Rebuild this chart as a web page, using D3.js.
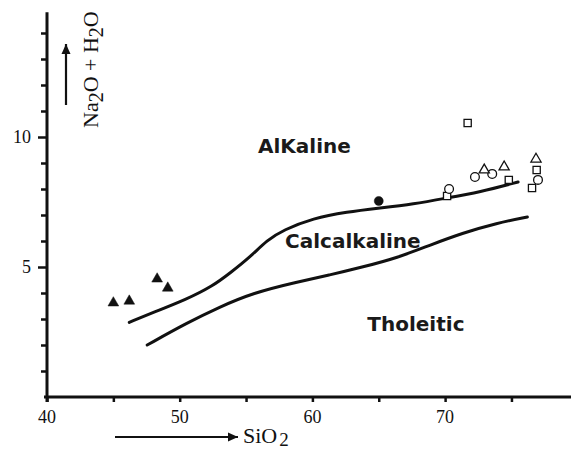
<!DOCTYPE html>
<html>
<head>
<meta charset="utf-8">
<script src="https://cdn.jsdelivr.net/npm/d3@7"></script>
<style>
  html, body { margin: 0; padding: 0; background: #fff; }
  svg { display: block; }
</style>
</head>
<body>
<svg id="chart" width="571" height="450"></svg>
<script>
// Boundary curves (SiO2, Na2O + H2O)
const upperCurveX = [46.2, 48.0, 50.5, 52.5, 53.8, 55.3, 56.6, 57.8, 60.05, 62.6, 65.1, 67.6, 70.1, 72.6, 75.5];
const upperCurveY = [2.87, 3.25, 3.75, 4.27, 4.77, 5.38, 6.04, 6.42, 6.88, 7.12, 7.27, 7.42, 7.65, 7.88, 8.27];
const lowerCurveX = [47.55, 50.55, 53.0, 55.5, 58.8, 61.3, 63.8, 66.4, 68.9, 71.35, 73.9, 76.2];
const lowerCurveY = [2.00, 2.85, 3.46, 4.00, 4.42, 4.69, 5.00, 5.35, 5.85, 6.31, 6.69, 6.92];

// Sample points
const filledTriX = [45.0, 46.2, 48.3, 49.1];
const filledTriY = [3.62, 3.69, 4.54, 4.19];
const filledCircleX = [65.0];
const filledCircleY = [7.54];
const openSquareX = [71.7, 70.15, 74.8, 76.9, 76.55];
const openSquareY = [10.54, 7.73, 8.35, 8.73, 8.04];
const openCircleX = [70.3, 72.25, 73.55, 77.0];
const openCircleY = [8.0, 8.46, 8.58, 8.35];
const openTriX = [72.95, 74.45, 76.85];
const openTriY = [8.73, 8.85, 9.15];

const xLabelTicks = [40, 50, 60, 70];
const xTicks = [40, 45, 50, 55, 60, 65, 70, 75];
const yLabelTicks = [5, 10];
const yTicks = d3.range(1, 15);

const regionNames = ["AlKaline", "Calcalkaline", "Tholeitic"];
const regionX = [59.4, 63.05, 67.8];
const regionY = [9.38, 5.73, 2.53];

const ink = "#111";
const serif = "'Liberation Serif', 'Times New Roman', serif";
const svg = d3.select("#chart");

const x = d3.scaleLinear().domain([40, 80]).range([47, 577.8]);
const y = d3.scaleLinear().domain([0, 14.8]).range([397, 12.2]);

// x axis
const xAxis = svg.append("g").attr("transform", `translate(0,${y(0)})`)
  .call(d3.axisBottom(x).tickValues(xTicks).tickSize(5).tickFormat(""));
xAxis.select(".domain").remove();
xAxis.selectAll(".tick line").attr("stroke", ink).attr("stroke-width", 2.5);
svg.append("line").attr("x1", 44).attr("x2", 571).attr("y1", y(0)).attr("y2", y(0))
  .attr("stroke", ink).attr("stroke-width", 3);
svg.append("g").selectAll("text").data(xLabelTicks).join("text")
  .attr("x", d => x(d)).attr("y", 423)
  .attr("text-anchor", "middle")
  .attr("font-family", serif)
  .attr("font-size", 18).attr("fill", ink)
  .text(d => d);

// y axis
const yAxis = svg.append("g").attr("transform", `translate(${x(40)},0)`)
  .call(d3.axisLeft(y).tickValues(yTicks)
    .tickSize(6).tickFormat(""));
yAxis.select(".domain").remove();
yAxis.selectAll(".tick line").attr("stroke", ink).attr("stroke-width", 2.5)
  .attr("x2", d => yLabelTicks.includes(d) ? -9 : -6);
svg.append("line").attr("x1", x(40)).attr("x2", x(40)).attr("y1", y(14.8)).attr("y2", y(0) + 5)
  .attr("stroke", ink).attr("stroke-width", 3);
svg.append("g").selectAll("text").data(yLabelTicks).join("text")
  .attr("x", 31).attr("y", d => y(d) + 6)
  .attr("text-anchor", "end")
  .attr("font-family", serif)
  .attr("font-size", 18).attr("fill", ink)
  .text(d => d);

// axis titles with arrows
const defs = svg.append("defs");
defs.append("marker").attr("id", "arrow").attr("viewBox", "0 0 10 10")
  .attr("refX", 10).attr("refY", 5).attr("markerWidth", 10).attr("markerHeight", 10)
  .attr("markerUnits", "userSpaceOnUse").attr("orient", "auto")
  .append("path").attr("d", "M0,0.5 L10,5 L0,9.5 Z").attr("fill", ink);

svg.append("line").attr("x1", 115).attr("x2", 238).attr("y1", 437).attr("y2", 437)
  .attr("stroke", ink).attr("stroke-width", 2.2).attr("marker-end", "url(#arrow)");
const xt = svg.append("text").attr("x", 243).attr("y", 443)
  .attr("font-family", serif)
  .attr("font-size", 22).attr("fill", ink);
xt.append("tspan").text("SiO");
xt.append("tspan").attr("dx", 2).attr("dy", 3).attr("font-size", 19).text("2");

svg.append("line").attr("x1", 66).attr("x2", 66).attr("y1", 105).attr("y2", 44)
  .attr("stroke", ink).attr("stroke-width", 2.2).attr("marker-end", "url(#arrow)");
const yt = svg.append("text").attr("transform", "translate(98,128) rotate(-90)")
  .attr("font-family", serif)
  .attr("font-size", 22).attr("fill", ink);
yt.append("tspan").text("Na");
yt.append("tspan").attr("dy", 5).attr("font-size", 20).text("2");
yt.append("tspan").attr("dy", -5).text("O + H");
yt.append("tspan").attr("dy", 5).attr("font-size", 20).text("2");
yt.append("tspan").attr("dy", -5).text("O");

// boundary curves
const line = d3.line().x(d => x(d[0])).y(d => y(d[1])).curve(d3.curveBasis);
svg.append("path").datum(d3.zip(upperCurveX, upperCurveY)).attr("d", line)
  .attr("fill", "none").attr("stroke", ink).attr("stroke-width", 3).attr("stroke-linecap", "round");
svg.append("path").datum(d3.zip(lowerCurveX, lowerCurveY)).attr("d", line)
  .attr("fill", "none").attr("stroke", ink).attr("stroke-width", 3).attr("stroke-linecap", "round");

// region names
svg.append("g").selectAll("text").data(regionNames).join("text")
  .attr("x", (d, i) => x(regionX[i])).attr("y", (d, i) => y(regionY[i]))
  .attr("text-anchor", "middle")
  .attr("font-family", "'DejaVu Sans', Verdana, sans-serif")
  .attr("font-weight", "bold").attr("font-size", 20).attr("fill", "#1a1a1a")
  .text(d => d);

// sample symbols
function drawSymbols(xs, ys, type, size, filled) {
  svg.append("g").selectAll("path").data(d3.zip(xs, ys)).join("path")
    .attr("transform", d => `translate(${x(d[0])},${y(d[1])})`)
    .attr("d", d3.symbol().type(type).size(size))
    .attr("fill", filled ? ink : "#fff")
    .attr("stroke", ink).attr("stroke-width", filled ? 0.5 : 1.3);
}
drawSymbols(filledTriX, filledTriY, d3.symbolTriangle, 50, true);
drawSymbols(filledCircleX, filledCircleY, d3.symbolCircle, 64, true);
drawSymbols(openSquareX, openSquareY, d3.symbolSquare, 52, false);
drawSymbols(openCircleX, openCircleY, d3.symbolCircle, 60, false);
drawSymbols(openTriX, openTriY, d3.symbolTriangle, 45, false);
</script>
</body>
</html>
